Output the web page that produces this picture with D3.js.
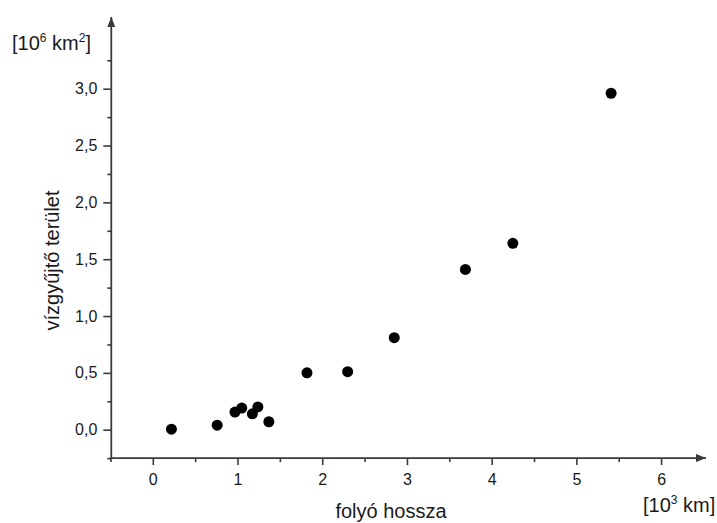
<!DOCTYPE html>
<html>
<head>
<meta charset="utf-8">
<script src="https://cdn.jsdelivr.net/npm/d3@7/dist/d3.min.js"></script>
<style>
  html, body { margin: 0; padding: 0; background: #fff; }
  svg { display: block; }
  text { font-family: "Liberation Sans", Arial, sans-serif; fill: #1a1a1a; }
</style>
</head>
<body>
<svg id="chart" width="717" height="523"></svg>
<script>
// River length (thousand km) vs. drainage basin area (million km²)
const riverLength = [0.22, 0.76, 0.97, 1.05, 1.175, 1.24, 1.37, 1.82, 2.30, 2.85, 3.69, 4.25, 5.41];
const basinArea   = [0.005, 0.04, 0.155, 0.19, 0.14, 0.20, 0.07, 0.50, 0.51, 0.81, 1.41, 1.64, 2.96];

const xTicks = [0, 1, 2, 3, 4, 5, 6];
const xMinorTicks = [-0.5, 0.5, 1.5, 2.5, 3.5, 4.5, 5.5];
const yTicks = [0, 0.5, 1.0, 1.5, 2.0, 2.5, 3.0];
const yMinorTicks = [-0.25, 0.25, 0.75, 1.25, 1.75, 2.25, 2.75, 3.25];

const xTitle = "folyó hossza";
const yTitle = "vízgyűjtő terület";

const svg = d3.select("#chart");
const axisColor = "#3a3a3a";

const x = d3.scaleLinear().domain([0, 6]).range([152.8, 661.1]);
const y = d3.scaleLinear().domain([0, 3]).range([429.7, 88.7]);

const xMin = -0.49, xMax = 6.53;   // extent of the horizontal axis line (arrow tip at xMax)
const yMin = -0.25, yMax = 3.63;   // extent of the vertical axis line (arrow tip at yMax)

const fmtY = v => d3.format(".1f")(v).replace(".", ",");

// arrowheads
const defs = svg.append("defs");
defs.append("marker")
  .attr("id", "arrow")
  .attr("viewBox", "0 0 10 8")
  .attr("refX", 10).attr("refY", 4)
  .attr("markerWidth", 10).attr("markerHeight", 8)
  .attr("markerUnits", "userSpaceOnUse")
  .attr("orient", "auto")
  .append("path")
  .attr("d", "M0,0 L10,4 L0,8 Z")
  .attr("fill", axisColor);

// x axis: major and minor ticks
const xAxisG = svg.append("g").attr("transform", `translate(0,${y(yMin)})`);
xAxisG.call(d3.axisBottom(x).tickValues(xTicks).tickSize(7).tickPadding(9).tickFormat(d3.format("d")));
const xMinorG = svg.append("g").attr("transform", `translate(0,${y(yMin)})`);
xMinorG.call(d3.axisBottom(x).tickValues(xMinorTicks).tickSize(4).tickFormat(""));

// y axis: major and minor ticks
const yAxisG = svg.append("g").attr("transform", `translate(${x(xMin)},0)`);
yAxisG.call(d3.axisLeft(y).tickValues(yTicks).tickSize(8).tickPadding(6).tickFormat(fmtY));
const yMinorG = svg.append("g").attr("transform", `translate(${x(xMin)},0)`);
yMinorG.call(d3.axisLeft(y).tickValues(yMinorTicks).tickSize(4).tickFormat(""));

[xAxisG, xMinorG, yAxisG, yMinorG].forEach(g => {
  g.select(".domain").remove();
  g.selectAll(".tick line").attr("stroke", axisColor).attr("stroke-width", 1.6);
  g.selectAll(".tick text").attr("font-size", 16).attr("fill", "#2a2a2a")
    .attr("font-family", "'Liberation Sans', Arial, sans-serif");
});

// axis lines with arrows
svg.append("line")
  .attr("x1", x(xMin) - 1).attr("y1", y(yMin))
  .attr("x2", x(xMax)).attr("y2", y(yMin))
  .attr("stroke", axisColor).attr("stroke-width", 1.8)
  .attr("marker-end", "url(#arrow)");
svg.append("line")
  .attr("x1", x(xMin)).attr("y1", y(yMin) + 1)
  .attr("x2", x(xMin)).attr("y2", y(yMax))
  .attr("stroke", axisColor).attr("stroke-width", 1.8)
  .attr("marker-end", "url(#arrow)");

// data points
svg.append("g").selectAll("circle")
  .data(riverLength.map((v, i) => [v, basinArea[i]]))
  .join("circle")
  .attr("cx", d => x(d[0]))
  .attr("cy", d => y(d[1]))
  .attr("r", 5.5)
  .attr("fill", "#000");

// axis titles
svg.append("text")
  .attr("x", 391).attr("y", 518)
  .attr("text-anchor", "middle")
  .attr("font-size", 20)
  .text(xTitle);

svg.append("text")
  .attr("transform", "translate(59,260.5) rotate(-90)")
  .attr("text-anchor", "middle")
  .attr("font-size", 20)
  .text(yTitle);

// unit labels with superscripts
function unitLabel(xPos, yPos, parts) {
  const t = svg.append("text").attr("x", xPos).attr("y", yPos).attr("font-size", 20);
  parts.forEach(p => {
    const s = t.append("tspan").text(p.text);
    if (p.sup) s.attr("font-size", 12).attr("baseline-shift", "70%");
  });
}
unitLabel(12, 50, [{text: "[10"}, {text: "6", sup: true}, {text: " km"}, {text: "2", sup: true}, {text: "]"}]);
unitLabel(643, 512, [{text: "[10"}, {text: "3", sup: true}, {text: " km]"}]);
</script>
</body>
</html>
